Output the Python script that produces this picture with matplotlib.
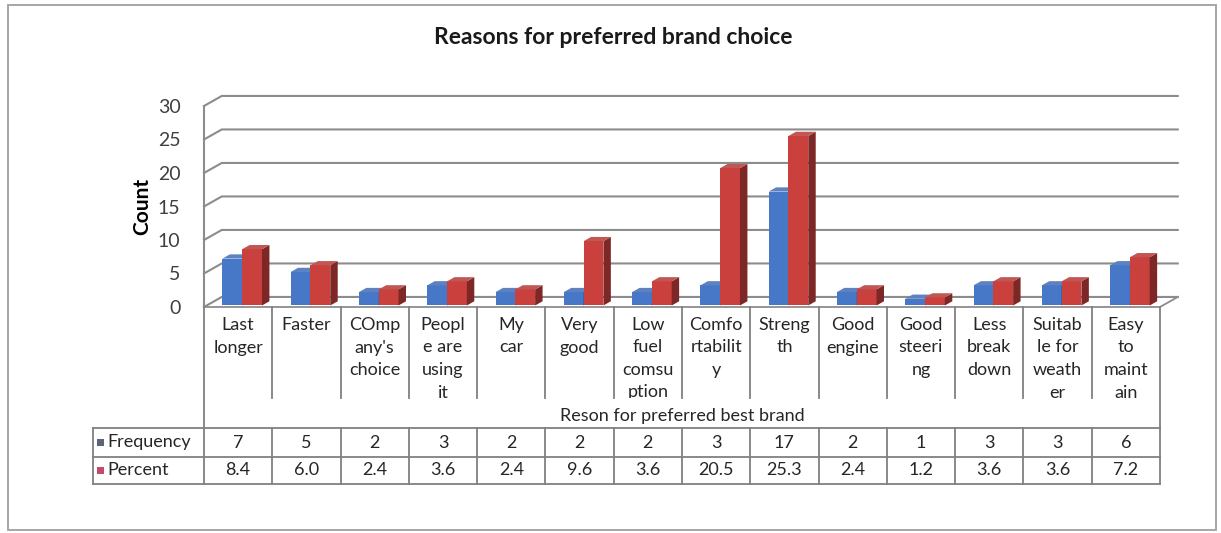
import matplotlib
matplotlib.use("Agg")
import matplotlib.pyplot as plt
from matplotlib.patches import Polygon, Rectangle
from matplotlib.colors import to_rgb

plt.rcParams['font.family'] = ['Lato', 'DejaVu Sans']

# ---- data -------------------------------------------------------------
categories = ["Last\nlonger", "Faster", "COmp\nany's\nchoice", "Peopl\ne are\nusing\nit",
              "My\ncar", "Very\ngood", "Low\nfuel\ncomsu\nption", "Comfo\nrtabilit\ny",
              "Streng\nth", "Good\nengine", "Good\nsteeri\nng", "Less\nbreak\ndown",
              "Suitab\nle for\nweath\ner", "Easy\nto\nmaint\nain"]
frequency = [7, 5, 2, 3, 2, 2, 2, 3, 17, 2, 1, 3, 3, 6]
percent = [8.4, 6.0, 2.4, 3.6, 2.4, 9.6, 3.6, 20.5, 25.3, 2.4, 1.2, 3.6, 3.6, 7.2]
freq_labels = ["7", "5", "2", "3", "2", "2", "2", "3", "17", "2", "1", "3", "3", "6"]
pct_labels = ["8.4", "6.0", "2.4", "3.6", "2.4", "9.6", "3.6", "20.5", "25.3", "2.4",
              "1.2", "3.6", "3.6", "7.2"]
y_ticks = [0, 5, 10, 15, 20, 25, 30]
series_names = ["Frequency", "Percent"]

title = "Reasons for preferred brand choice"
y_label = "Count"
x_title = "Reson for preferred best brand"

# ---- style ------------------------------------------------------------
W, H = 1221, 533
fig = plt.figure(figsize=(W / 100, H / 100), dpi=100)
fig.patch.set_facecolor("white")

# outer chart frame
fig.add_artist(Rectangle((8 / W, 3 / H), 1208 / W, 525 / H, transform=fig.transFigure,
                         fill=False, edgecolor="#a6a6a6", lw=1.4))

n = len(categories)
ax = fig.add_axes([204 / W, 226 / H, 956 / W, 201 / H])
ax.set_xlim(0, n)
ax.set_ylim(0, 30)
for s in ax.spines.values():
    s.set_visible(False)
ax.set_xticks([])
ax.set_yticks(y_ticks)
ax.set_yticklabels([str(t) for t in y_ticks], fontsize=14, color="#404040")
ax.tick_params(axis="y", length=0, pad=17)
ax.set_ylabel(y_label, fontsize=15, fontweight="bold", labelpad=4)
ax.patch.set_alpha(0)

# oblique depth of the back wall in data units
DX, DY = 0.26, 1.5
grid_c = "#8c8c8c"

# back wall gridlines with the short side-wall segment on the left
for t in y_ticks:
    ax.plot([0, DX, n + DX], [t, t + DY, t + DY], color=grid_c, lw=1.5,
            clip_on=False, zorder=1, solid_joinstyle="round")
# left wall front edge and floor
ax.plot([0, 0], [0, 30], color=grid_c, lw=1.5, clip_on=False, zorder=1)
ax.plot([0, n, n + DX], [0, 0, DY], color=grid_c, lw=1.3, clip_on=False, zorder=1)


def shade(c, k):
    r, g, b = to_rgb(c)
    return (r * k, g * k, b * k)


def lighten(c, k):
    r, g, b = to_rgb(c)
    return (r + (1 - r) * k, g + (1 - g) * k, b + (1 - b) * k)


blue = "#4778c8"
red = "#c9403d"
F0, FD = 0.15, 0.42  # front offset and depth of bars, as fractions of wall depth
bw = 0.29


def bar3d(x0, val, color, z):
    ox, oy = F0 * DX, F0 * DY
    dx, dy = FD * DX, FD * DY
    ax.bar(x0 + ox, val, width=bw, bottom=oy, align="edge", color=color,
           edgecolor="none", zorder=z, clip_on=False)
    x1 = x0 + bw
    side = [(x1 + ox, oy), (x1 + ox, val + oy), (x1 + ox + dx, val + oy + dy),
            (x1 + ox + dx, oy + dy)]
    top = [(x0 + ox, val + oy), (x1 + ox, val + oy), (x1 + ox + dx, val + oy + dy),
           (x0 + ox + dx, val + oy + dy)]
    ax.add_patch(Polygon(side, closed=True, facecolor=shade(color, 0.62),
                         edgecolor="none", zorder=z, clip_on=False))
    ax.add_patch(Polygon(top, closed=True, facecolor=lighten(shade(color, 0.9), 0.15),
                         edgecolor="none", zorder=z, clip_on=False))


for i in range(n):
    bar3d(i + 0.23, frequency[i], blue, 3 + 2 * i)
    bar3d(i + 0.23 + bw, percent[i], red, 4 + 2 * i)

# ---- data table below the chart ---------------------------------------
px = 30 / 201.0  # data units per pixel (vertical)
line_c = "#808080"
y_cat_bot = -91 * px
y_hdr = -121 * px
y_r1 = -150 * px
y_r2 = -177 * px
x_leg = -111 / 68.3

kw = dict(color=line_c, lw=1.3, clip_on=False, zorder=2)
for i in range(1, n):
    ax.plot([i, i], [0, y_cat_bot], **kw)
    ax.plot([i, i], [y_hdr, y_r2], **kw)
ax.plot([0, 0], [0, y_r2], **kw)
ax.plot([n, n], [0, y_r2], **kw)
ax.plot([x_leg, x_leg], [y_hdr, y_r2], **kw)
for yy in (y_hdr, y_r1, y_r2):
    ax.plot([x_leg, n], [yy, yy], **kw)

fs = 13
for i, lab in enumerate(categories):
    t = ax.text(i + 0.5, -10 * px, lab, ha="center", va="top", fontsize=fs,
                color="#262626", linespacing=1.5, clip_on=True, zorder=5)
    clip = Rectangle((i, y_cat_bot), 1, -y_cat_bot, transform=ax.transData)
    t.set_clip_path(clip)
    ax.text(i + 0.5, (y_hdr + y_r1) / 2, freq_labels[i], ha="center", va="center",
            fontsize=fs, color="#262626", clip_on=False)
    ax.text(i + 0.5, (y_r1 + y_r2) / 2, pct_labels[i], ha="center", va="center",
            fontsize=fs, color="#262626", clip_on=False)

ax.text(n / 2, (y_cat_bot + y_hdr) / 2 - 3 * px, x_title, ha="center", va="center",
        fontsize=fs, color="#262626", clip_on=False)

key_colors = ["#5b6577", "#c24a6a"]
for yy0, yy1, name, kc in ((y_hdr, y_r1, series_names[0], key_colors[0]),
                           (y_r1, y_r2, series_names[1], key_colors[1])):
    yc = (yy0 + yy1) / 2
    ax.add_patch(Rectangle((x_leg + 4 / 68.3, yc - 3.5 * px), 7 / 68.3, 7 * px,
                           facecolor=kc, edgecolor="none", clip_on=False))
    ax.text(x_leg + 14 / 68.3, yc, name, ha="left", va="center", fontsize=fs,
            color="#262626", clip_on=False)

fig.text(613 / W, 1 - 37 / H, title, ha="center", va="center", fontsize=16.5,
         fontweight="bold", color="#1a1a1a")

fig.savefig("out.png", dpi=100, facecolor="white")
